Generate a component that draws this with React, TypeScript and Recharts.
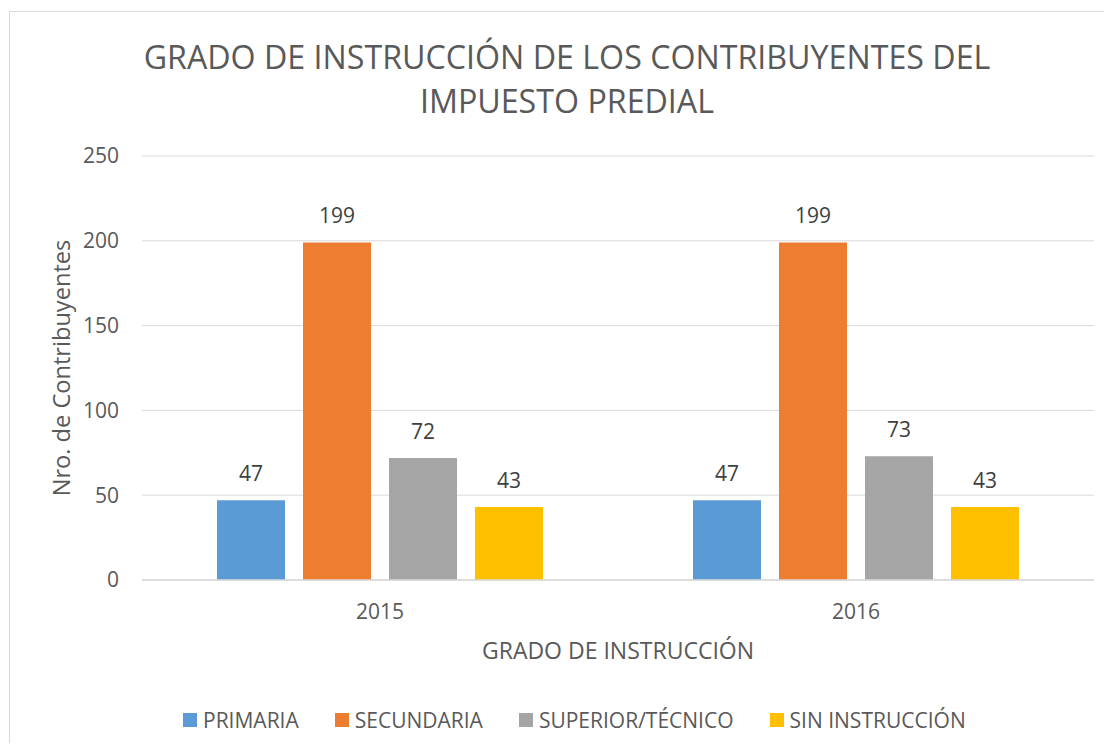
import React from 'react';
import { BarChart, Bar, XAxis, YAxis, CartesianGrid, Legend, LabelList, Label } from 'recharts';

const years = ['2015', '2016'];
const primaria = [47, 47];
const secundaria = [199, 199];
const superior = [72, 73];
const sinInstruccion = [43, 43];
const yTicks = [0, 50, 100, 150, 200, 250];
const seriesKeys = ['primaria', 'secundaria', 'superior', 'sin'];
const seriesNames = ['PRIMARIA', 'SECUNDARIA', 'SUPERIOR/TÉCNICO', 'SIN INSTRUCCIÓN'];
const seriesColors = ['#5B9BD5', '#ED7D31', '#A5A5A5', '#FFC000'];
const titleLines = ['GRADO DE INSTRUCCIÓN DE LOS CONTRIBUYENTES DEL', 'IMPUESTO PREDIAL'];
const xTitle = 'GRADO DE INSTRUCCIÓN';
const yTitle = 'Nro. de Contribuyentes';

const data = years.map((year, i) => ({
  year,
  primaria: primaria[i],
  secundaria: secundaria[i],
  superior: superior[i],
  sin: sinInstruccion[i],
}));

const FONT = '"Open Sans", sans-serif';
const TEXT = '#595959';

const LegendContent = () => (
  <div
    style={{
      display: 'flex',
      alignItems: 'center',
      height: 30,
      paddingLeft: 173,
      fontFamily: FONT,
      fontSize: 21,
      color: TEXT,
      whiteSpace: 'nowrap',
    }}
  >
    {seriesNames.map((n, i) => (
      <div key={n} style={{ display: 'flex', alignItems: 'center', marginRight: 36 }}>
        <span style={{ display: 'inline-block', width: 14, height: 14, background: seriesColors[i], marginRight: 6 }} />
        <span>{n}</span>
      </div>
    ))}
  </div>
);

export default function App() {
  return (
    <div style={{ position: 'relative', width: 1096, height: 735 }}>
      <div
        style={{
          position: 'absolute',
          left: 1,
          top: 3,
          width: 1102,
          height: 739,
          borderTop: '1px solid #d9d9d9',
          borderLeft: '1px solid #d9d9d9',
          background: '#fff',
          overflow: 'hidden',
        }}
      >
        <div
          style={{
            position: 'absolute',
            left: 557 - 520,
            width: 1040,
            top: 23,
            textAlign: 'center',
            fontFamily: FONT,
            fontSize: 32.2,
            lineHeight: '44px',
            color: TEXT,
            whiteSpace: 'nowrap',
          }}
        >
          {titleLines.map((l) => (
            <div key={l}>{l}</div>
          ))}
        </div>
        <BarChart
          width={1102}
          height={739}
          data={data}
          margin={{ top: 144, right: 18, bottom: 41, left: 20 }}
          barGap={18}
          barSize={68}
          style={{ fontFamily: FONT }}
        >
          <CartesianGrid horizontal vertical={false} stroke="#d9d9d9" strokeWidth={1} />
          <XAxis
            dataKey="year"
            height={100}
            tickLine={false}
            tickSize={0}
            tickMargin={24}
            axisLine={{ stroke: '#d9d9d9', strokeWidth: 1.5 }}
            tick={{ fill: TEXT, fontSize: 21, fontFamily: FONT }}
          >
            <Label
              value={xTitle}
              position="insideBottom"
              offset={21}
              fill={TEXT}
              fontSize={23}
              fontFamily={FONT}
            />
          </XAxis>
          <YAxis
            width={112}
            domain={[0, 250]}
            ticks={yTicks}
            axisLine={false}
            tickLine={false}
            tickSize={0}
            tickMargin={23}
            interval={0}
            tick={{ fill: TEXT, fontSize: 21, fontFamily: FONT }}
          >
            <Label
              value={yTitle}
              position="insideLeft"
              offset={32}
              angle={-90}
              fill={TEXT}
              fontSize={23.6}
              fontFamily={FONT}
              style={{ textAnchor: 'middle' }}
            />
          </YAxis>
          <Legend
            verticalAlign="bottom"
            align="left"
            content={<LegendContent />}
            wrapperStyle={{ top: 693, bottom: 'auto', left: 0, width: 1102, height: 30 }}
          />
          {seriesKeys.map((k, i) => (
            <Bar key={k} dataKey={k} name={seriesNames[i]} fill={seriesColors[i]} isAnimationActive={false}>
              <LabelList dataKey={k} position="top" offset={19} fill="#404040" fontSize={21} fontFamily={FONT} />
            </Bar>
          ))}
        </BarChart>
      </div>
    </div>
  );
}
